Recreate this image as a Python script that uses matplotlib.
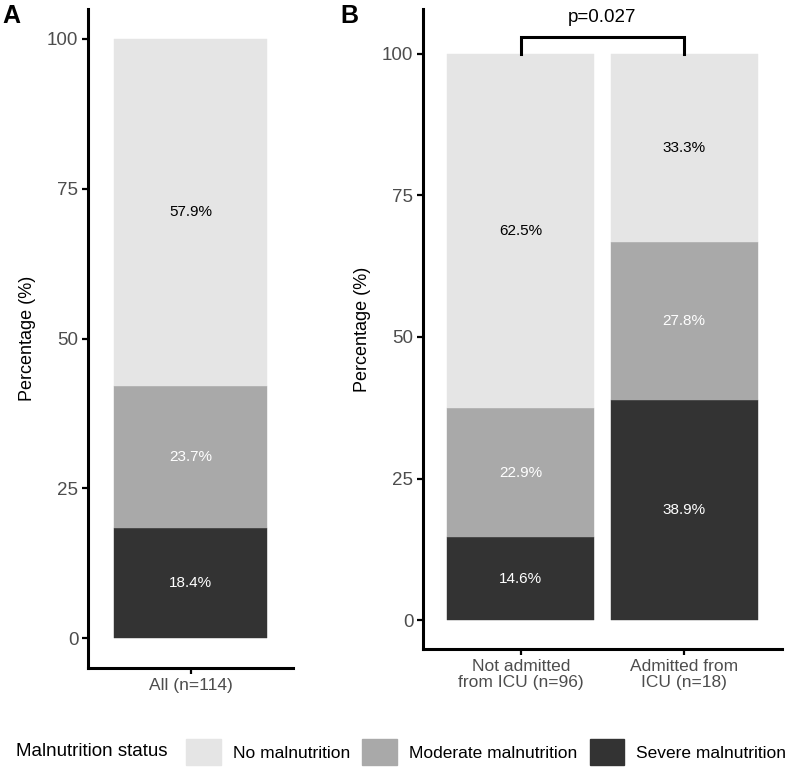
import matplotlib.pyplot as plt
from matplotlib.patches import Patch

plt.rcParams['font.family'] = ['Liberation Sans', 'DejaVu Sans']

status = ["Severe malnutrition", "Moderate malnutrition", "No malnutrition"]
colors = ["#333333", "#a9a9a9", "#e5e5e5"]
label_colors = ["white", "white", "black"]

groups_a = ["All (n=114)"]
pct_a = [[18.4], [23.7], [57.9]]

groups_b = ["Not admitted\nfrom ICU (n=96)", "Admitted from\nICU (n=18)"]
pct_b = [[14.6, 38.9], [22.9, 27.8], [62.5, 33.3]]

p_text = "p=0.027"

W, H = 789, 771
fig = plt.figure(figsize=(W / 100, H / 100), dpi=100)

def px_axes(l, t, r, b):
    return fig.add_axes([l / W, 1 - b / H, (r - l) / W, (b - t) / H])

ax_a = px_axes(88, 9, 293, 668)
ax_b = px_axes(423, 9, 782, 649)


def stacked(ax, groups, pct):
    xs = list(range(1, len(groups) + 1))
    bottoms = [0.0] * len(groups)
    for k, vals in enumerate(pct):
        ax.bar(xs, vals, width=0.9, bottom=bottoms, color=colors[k],
               edgecolor=colors[k], linewidth=0.3)
        for x, b, v in zip(xs, bottoms, vals):
            ax.text(x, b + v / 2, f"{v:.1f}%", ha="center", va="center",
                    fontsize=11, color=label_colors[k])
        bottoms = [b + v for b, v in zip(bottoms, vals)]
    ax.set_xticks(xs)
    ax.set_xticklabels(groups, linespacing=1.1)
    ax.set_xlim(0.4, len(groups) + 0.6)
    ax.set_yticks([0, 25, 50, 75, 100])
    ax.set_ylabel("Percentage (%)", fontsize=13, labelpad=8)
    for s in ["top", "right"]:
        ax.spines[s].set_visible(False)
    for s in ["left", "bottom"]:
        ax.spines[s].set_linewidth(2.2)
    ax.tick_params(axis="both", length=4, width=1.6, labelsize=12.5,
                   labelcolor="#4d4d4d", pad=3)
    ax.tick_params(axis="y", labelsize=13.5)


stacked(ax_a, groups_a, pct_a)
ax_a.set_ylim(-5, 105)

stacked(ax_b, groups_b, pct_b)
ax_b.set_ylim(-5.1, 107.9)

# significance bracket
ax_b.plot([1, 1, 2, 2], [100, 102.9, 102.9, 100], color="black",
          linewidth=2.2, solid_joinstyle="miter", clip_on=False)
ax_b.text(1.5, 106.4, p_text, ha="center", va="center", fontsize=13.5)

fig.text(2 / W, 1 - 16 / H, "A", fontsize=18, fontweight="bold", va="center")
fig.text(340 / W, 1 - 16 / H, "B", fontsize=18, fontweight="bold", va="center")

# legend
fig.text(16 / W, 1 - 752 / H, "Malnutrition status", fontsize=13.5,
         va="center")
handles = [Patch(facecolor=colors[k], edgecolor=colors[k]) for k in (2, 1, 0)]
names = [status[k] for k in (2, 1, 0)]
fig.legend(handles, names, ncol=3, loc="center left",
           bbox_to_anchor=(186 / W, 1 - 752 / H), frameon=False,
           fontsize=12.5, handlelength=2.0, handleheight=2.0,
           handletextpad=0.7, columnspacing=0.7, borderaxespad=0,
           borderpad=0)

fig.savefig("out.png", dpi=100)
